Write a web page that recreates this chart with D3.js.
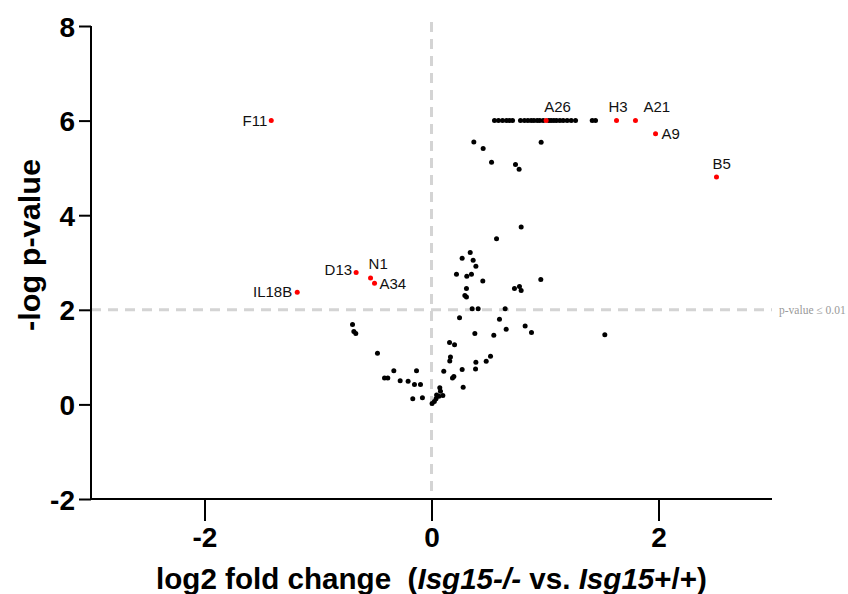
<!DOCTYPE html>
<html><head><meta charset="utf-8">
<script src="https://cdn.jsdelivr.net/npm/d3@7"></script>
<style>body{margin:0;background:#fff}svg{display:block}text{white-space:pre}</style>
</head><body>
<svg id="chart" width="848" height="594"></svg>
<script>
// ---- data ----
const xTicks = [-2, 0, 2];
const yTicks = [-2, 0, 2, 4, 6, 8];
const threshold = 2;
const thresholdLabel = "p-value \u2264 0.01";
const xTitleParts = [["log2 fold change  (", false], ["Isg15", true], ["-/- ", true], ["vs. ", false], ["Isg15", true], ["+/+", false], [")", false]];
const yTitle = "-log p-value";

const nsX = [0.555,0.590,0.626,0.661,0.687,0.714,
  0.784,0.819,0.849,0.878,0.902,0.931,0.954,0.984,1.034,1.054,1.078,1.101,1.131,1.160,1.195,1.231,1.269,1.416,1.445,
  0.373,0.455,0.529,0.740,0.772,0.966,
  0.790,0.573,0.341,0.270,0.367,0.391,0.220,0.311,0.352,0.452,0.963,0.308,0.731,0.775,0.790,0.294,0.308,0.358,0.411,0.649,0.247,0.599,0.825,0.658,0.382,0.881,0.549,1.527,0.159,0.203,
  -0.696,-0.684,-0.667,-0.476,-0.332,-0.414,-0.385,-0.276,-0.206,-0.132,-0.150,-0.097,-0.165,-0.080,
  0.161,0.167,0.108,0.185,0.197,0.270,0.279,0.391,0.388,0.482,0.520,
  0.005,0.025,0.040,0.045,0.065,0.079,0.100,0.073];
const nsY = [6,6,6,6,6,6,
  6,6,6,6,6,6,6,6,6,6,6,6,6,6,6,6,6,6,6,
  5.55,5.41,5.12,5.07,4.97,5.54,
  3.75,3.50,3.21,3.09,3.05,2.92,2.75,2.71,2.75,2.61,2.64,2.45,2.45,2.49,2.41,2.30,2.27,2.02,2.02,2.02,1.83,1.80,1.66,1.59,1.50,1.52,1.46,1.47,1.31,1.26,
  1.69,1.54,1.50,1.08,0.71,0.56,0.56,0.50,0.49,0.71,0.42,0.42,0.12,0.14,
  0.92,1.00,0.70,0.56,0.59,0.74,0.36,0.89,0.75,0.91,1.02,
  0.02,0.06,0.12,0.20,0.17,0.28,0.19,0.35];

const sigGenes = ["F11","IL18B","D13","N1","A34","A26","H3","A21","A9","B5"];
const sigX = [-1.412,-1.183,-0.664,-0.537,-0.502,1.010,1.630,1.797,1.974,2.511];
const sigY = [6.00,2.37,2.79,2.67,2.56,6.00,6.00,6.00,5.72,4.81];

// ---- label layout (px offsets from dot, anchor) ----
const labelLayout = {
  F11:{dx:-4,dy:5,a:"end"}, IL18B:{dx:-5,dy:5,a:"end"}, D13:{dx:-4,dy:3,a:"end"},
  N1:{dx:-2,dy:-9,a:"start"}, A34:{dx:5,dy:6,a:"start"}, A26:{dx:-2,dy:-9,a:"start"},
  H3:{dx:-8,dy:-9,a:"start"}, A21:{dx:8,dy:-9,a:"start"}, A9:{dx:6,dy:5,a:"start"},
  B5:{dx:-4,dy:-8,a:"start"}
};

const svg = d3.select("#chart");
const x = d3.scaleLinear().domain([-3, 3]).range([91, 772]);
const y = d3.scaleLinear().domain([-2, 8]).range([499, 26]);
const font = "'Liberation Sans', Arial, sans-serif";

// reference lines
svg.append("line").attr("x1", x(0)).attr("x2", x(0)).attr("y1", 22).attr("y2", y(-2))
  .attr("stroke", "#d4d4d4").attr("stroke-width", 3).attr("stroke-dasharray", "10,7");
svg.append("line").attr("x1", x(-3)).attr("x2", x(3)).attr("y1", y(threshold)).attr("y2", y(threshold))
  .attr("stroke", "#d4d4d4").attr("stroke-width", 3).attr("stroke-dasharray", "10,7");
svg.append("text").attr("x", 779).attr("y", y(threshold) + 4).text(thresholdLabel)
  .attr("font-family", "'Liberation Serif', 'Times New Roman', serif").attr("font-size", 11.5).attr("fill", "#999");

// axes
const fmt = d => String(d);
const yAxis = svg.append("g").attr("transform", `translate(${x(-3)},0)`)
  .call(d3.axisLeft(y).tickValues(yTicks).tickSize(12).tickPadding(4).tickFormat(fmt));
const xAxis = svg.append("g").attr("transform", `translate(0,${y(-2)})`)
  .call(d3.axisBottom(x).tickValues(xTicks).tickSize(22).tickPadding(6).tickFormat(fmt));
[yAxis, xAxis].forEach(g => {
  g.select(".domain").attr("stroke", "#000").attr("stroke-width", 2);
  g.selectAll(".tick line").attr("stroke", "#000").attr("stroke-width", 2);
  g.selectAll("text").attr("font-family", font).attr("font-weight", "bold").attr("font-size", 28).attr("fill", "#000");
});
yAxis.select(".domain").attr("d", `M0,${y(8)}V${y(-2)}`);
xAxis.select(".domain").attr("d", `M${x(-3)},0H${x(3)}`);
yAxis.selectAll(".tick text").attr("dy", "0.36em");
xAxis.selectAll(".tick text").attr("dy", "0.72em");

// titles
const xt = svg.append("text").attr("x", x(0)).attr("y", 589).attr("text-anchor", "middle")
  .attr("font-family", font).attr("font-weight", "bold").attr("font-size", 29)
  .attr("textLength", 551).attr("lengthAdjust", "spacingAndGlyphs");
xt.selectAll("tspan").data(xTitleParts).join("tspan").text(d => d[0])
  .attr("font-style", d => d[1] ? "italic" : "normal");
svg.append("text").attr("transform", `translate(40,${245}) rotate(-90)`).attr("text-anchor", "middle")
  .attr("font-family", font).attr("font-weight", "bold").attr("font-size", 29)
  .attr("textLength", 172).attr("lengthAdjust", "spacingAndGlyphs").text(yTitle);

// points
svg.append("g").selectAll("circle").data(d3.range(nsX.length)).join("circle")
  .attr("cx", i => x(nsX[i])).attr("cy", i => y(nsY[i])).attr("r", 2.5).attr("fill", "#000");
svg.append("g").selectAll("circle").data(d3.range(sigGenes.length)).join("circle")
  .attr("cx", i => x(sigX[i])).attr("cy", i => y(sigY[i])).attr("r", 2.5).attr("fill", "#ff0000");
svg.append("g").selectAll("text").data(d3.range(sigGenes.length)).join("text")
  .attr("x", i => x(sigX[i]) + labelLayout[sigGenes[i]].dx)
  .attr("y", i => y(sigY[i]) + labelLayout[sigGenes[i]].dy)
  .attr("text-anchor", i => labelLayout[sigGenes[i]].a)
  .attr("font-family", font).attr("font-size", 15).attr("fill", "#111")
  .text(i => sigGenes[i]);
</script>
</body></html>
